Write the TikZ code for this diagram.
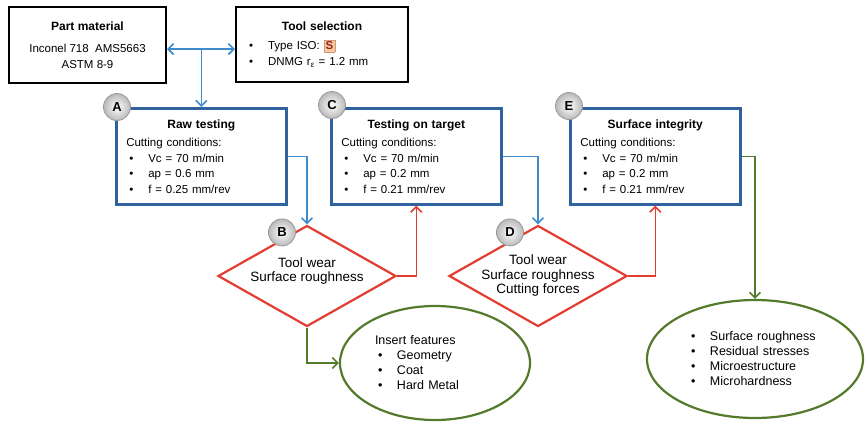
\documentclass[tikz,border=0pt]{standalone}
\usepackage{fontspec}
\setmainfont{Liberation Sans}
\usetikzlibrary{shapes.geometric,arrows.meta}

\definecolor{boxblue}{RGB}{49,98,160}
\definecolor{linkblue}{RGB}{62,140,205}
\definecolor{wearred}{RGB}{228,60,48}
\definecolor{featgreen}{RGB}{84,122,44}
\definecolor{isofill}{RGB}{246,200,165}
\definecolor{isoedge}{RGB}{215,150,110}
\definecolor{isotext}{RGB}{150,40,30}

\newcommand{\bul}{\hspace*{3pt}\makebox[19pt][l]{\textbullet}}
\newcommand{\bodyfont}{\fontsize{11.5}{15.5}\selectfont}
\newcommand{\titfont}{\fontsize{12}{14}\selectfont\bfseries}

\begin{document}
\begin{tikzpicture}[x=1pt,y=-1pt,
  >={Straight Barb[length=5.5pt,width=11pt]},
  blackbox/.style={rectangle,draw=black,line width=2pt,inner xsep=10pt,
    anchor=north west,font=\bodyfont},
  testbox/.style={rectangle,draw=boxblue,line width=2.6pt,minimum width=170pt,
    minimum height=96pt,text width=150pt,inner xsep=10pt,align=left,
    anchor=north west,font=\bodyfont},
  letter/.style={circle,inner color=white,outer color=gray!55,draw=gray!80,
    line width=0.8pt,minimum size=27pt,inner sep=0pt,
    font=\fontsize{13}{13}\selectfont\bfseries},
  check/.style={diamond,draw=wearred,line width=2.2pt,minimum width=178pt,
    minimum height=101pt,inner sep=0pt},
  result/.style={ellipse,draw=featgreen,line width=2.2pt,align=left,
    font=\fontsize{12.5}{15}\selectfont},
  link/.style={draw=linkblue,line width=1.6pt},
  back/.style={draw=wearred,line width=1.6pt},
  feed/.style={draw=featgreen,line width=1.6pt}]
\useasboundingbox (0,0) rectangle (865,421);

\node[blackbox,minimum width=157pt,minimum height=76pt,align=center]
  (part) at (8,6)
  {{\titfont Part material}\\[7pt] Inconel 718~~AMS5663\\ASTM 8-9};
\node[blackbox,minimum width=172pt,minimum height=75pt,text width=152pt,align=left]
  (tool) at (235,6)
  {{\centering\titfont Tool selection\par}\vspace{4pt}
   \bul Type ISO: {\setlength{\fboxsep}{1.5pt}\fcolorbox{isoedge}{isofill}{\textcolor{isotext}{\textbf{S}}}}\\
   \bul DNMG r\textsubscript{ε} = 1.2 mm};

\node[testbox] (A) at (115,107)
  {{\centering\titfont Raw testing\par}\vspace{3pt}
   Cutting conditions:\\
   \bul Vc = 70 m/min\\
   \bul ap = 0.6 mm\\
   \bul f = 0.25 mm/rev};
\node[testbox] (C) at (330,107)
  {{\centering\titfont Testing on target\par}\vspace{3pt}
   Cutting conditions:\\
   \bul Vc = 70 m/min\\
   \bul ap = 0.2 mm\\
   \bul f = 0.21 mm/rev};
\node[testbox] (E) at (569,107)
  {{\centering\titfont Surface integrity\par}\vspace{3pt}
   Cutting conditions:\\
   \bul Vc = 70 m/min\\
   \bul ap = 0.2 mm\\
   \bul f = 0.21 mm/rev};

\node[check] (B) at (307,276) {};
\node[align=center,font=\fontsize{13.5}{14.5}\selectfont] (Btxt)
  at ([yshift=5pt]B.center) {Tool wear\\Surface roughness};
\node[check] (D) at (538,276) {};
\node[align=center,font=\fontsize{13.5}{14.5}\selectfont] (Dtxt)
  at (D.center) {Tool wear\\Surface roughness\\Cutting forces};

\node[result,minimum width=190pt,minimum height=114pt,text width=120pt]
  (feat) at (435,363)
  {Insert features\\ \bul Geometry\\ \bul Coat\\ \bul Hard Metal};
\node[result,minimum width=216pt,minimum height=118pt,text width=134pt]
  (integ) at (755,359)
  {\bul Surface roughness\\ \bul Residual stresses\\ \bul Microestructure\\ \bul Microhardness};

\node[letter] (letA) at ([xshift=2pt]A.north west) {A};
\node[letter] (letC) at ([xshift=2pt,yshift=2pt]C.north west) {C};
\node[letter] (letE) at ([yshift=1pt]E.north west) {E};
\node[letter] (letB) at ([xshift=-25pt,yshift=-8pt]B.north) {B};
\node[letter] (letD) at ([xshift=-28pt,yshift=-8pt]D.north) {D};

\coordinate (split) at ([yshift=-4pt]part.east);
\draw[link,<->] (split) -- (split -| tool.west);
\draw[link,->] (A.north |- split) -- (A.north);
\draw[link,->] (A.east) -| (B.north);
\draw[link,->] (C.east) -| (D.north);
\draw[back,->] (B.east) -| (C.south);
\draw[back,->] (D.east) -| (E.south);
\draw[feed,->] (B.south) |- (feat.west);
\draw[feed,->] (E.east) -| (integ.north);
\end{tikzpicture}
\end{document}
